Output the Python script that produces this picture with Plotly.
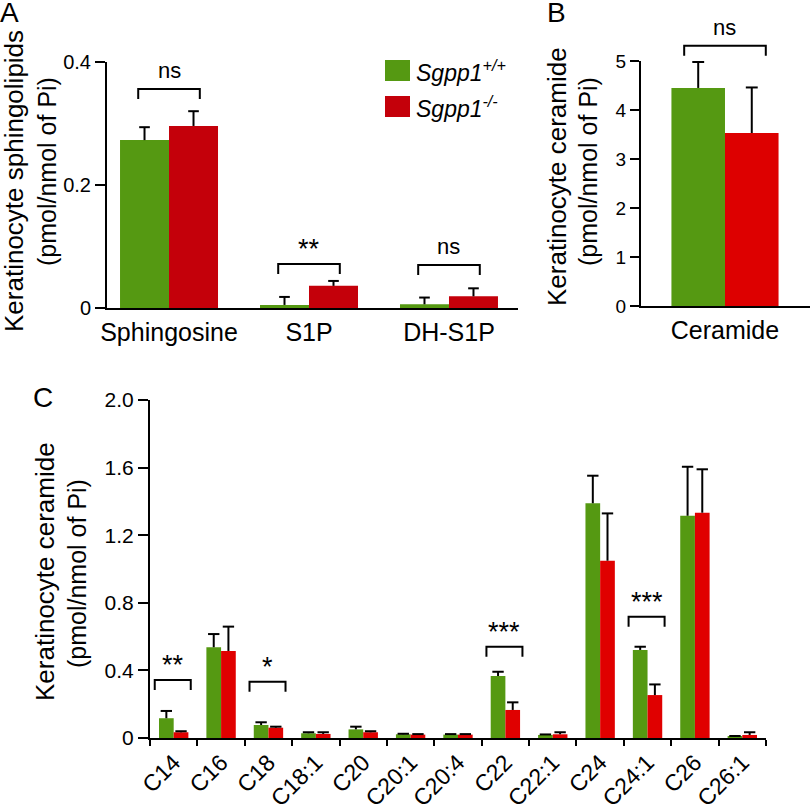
import plotly.graph_objects as go

# ---- data ----
# panel A: sphingolipids
lipids = ["Sphingosine", "S1P", "DH-S1P"]
wt_lipids = [0.273, 0.005, 0.006]
wt_lipids_err = [0.021, 0.013, 0.011]
ko_lipids = [0.296, 0.036, 0.019]
ko_lipids_err = [0.024, 0.008, 0.013]
lipid_sig = ["ns", "**", "ns"]
lipid_sig_level = [0.356, 0.0715, 0.070]
lipid_ticks = [0, 0.2, 0.4]
lipid_ticktext = ["0", "0.2", "0.4"]

# panel B: total ceramide
total = ["Ceramide"]
wt_total = [4.45]
wt_total_err = [0.53]
ko_total = [3.53]
ko_total_err = [0.93]
total_sig = ["ns"]
total_sig_level = [5.31]
total_ticks = [0, 1, 2, 3, 4, 5]
total_ticktext = ["0", "1", "2", "3", "4", "5"]

# panel C: ceramide species
species = ["C14", "C16", "C18", "C18:1", "C20", "C20:1", "C20:4",
           "C22", "C22:1", "C24", "C24:1", "C26", "C26:1"]
wt_species = [0.117, 0.537, 0.077, 0.028, 0.051, 0.022, 0.020,
              0.367, 0.018, 1.389, 0.521, 1.315, 0.008]
wt_species_err = [0.043, 0.078, 0.016, 0.006, 0.016, 0.003, 0.003,
                  0.025, 0.003, 0.163, 0.019, 0.290, 0.004]
ko_species = [0.034, 0.515, 0.061, 0.024, 0.034, 0.020, 0.020,
              0.166, 0.022, 1.049, 0.254, 1.333, 0.018]
ko_species_err = [0.006, 0.144, 0.006, 0.010, 0.006, 0.003, 0.003,
                  0.045, 0.012, 0.280, 0.063, 0.257, 0.016]
species_sig = ["**", "", "*", "", "", "", "", "***", "", "", "***", "", ""]
species_sig_level = [0.343, 0, 0.333, 0, 0, 0, 0, 0.54, 0, 0, 0.718, 0, 0]
species_ticks = [0, 0.4, 0.8, 1.2, 1.6, 2.0]
species_ticktext = ["0", "0.4", "0.8", "1.2", "1.6", "2.0"]

GREEN = "#559912"
FONT = "Liberation Sans, Arial, Helvetica, sans-serif"
W, H = 812, 806


def fx(p):
    return p / W


def fy(p):
    return 1 - p / H


# pixel layout of each panel: x domain, y domain (bottom, top), x range, bar width
panels = [
    dict(cats=lipids, wt=wt_lipids, wte=wt_lipids_err, ko=ko_lipids, koe=ko_lipids_err,
         sig=lipid_sig, lvl=lipid_sig_level, ticks=lipid_ticks, ticktext=lipid_ticktext,
         xd=(107, 518), yd=(308, 62), xr=(-0.443, 2.493), yr=(0, 0.4), w=0.35,
         red="#c4000a", half=0.22, tickfont=20, catfont=25, ticklen=10, cw=0.038),
    dict(cats=total, wt=wt_total, wte=wt_total_err, ko=ko_total, koe=ko_total_err,
         sig=total_sig, lvl=total_sig_level, ticks=total_ticks, ticktext=total_ticktext,
         xd=(641, 810), yd=(306, 61), xr=(-0.494, 0.5), yr=(0, 5), w=0.315,
         red="#dd0000", half=0.24, tickfont=19, catfont=25, ticklen=9, cw=0.035),
    dict(cats=species, wt=wt_species, wte=wt_species_err, ko=ko_species, koe=ko_species_err,
         sig=species_sig, lvl=species_sig_level, ticks=species_ticks, ticktext=species_ticktext,
         xd=(150, 766), yd=(738, 400), xr=(-0.5, 12.5), yr=(0, 2.0), w=0.31,
         red="#e00000", half=0.38, tickfont=21, catfont=23, ticklen=10, cw=0.12),
]

fig = go.Figure()
shapes = []
annotations = []

for k, p in enumerate(panels):
    sfx = "" if k == 0 else str(k + 1)
    n = len(p["cats"])
    idx = list(range(n))
    for vals, errs, off, col in [(p["wt"], p["wte"], -p["w"], GREEN),
                                 (p["ko"], p["koe"], 0, p["red"])]:
        fig.add_trace(go.Bar(x=idx, y=vals, width=p["w"], offset=off,
                             marker=dict(color=col, line=dict(width=0)),
                             xaxis="x" + sfx, yaxis="y" + sfx, showlegend=False))
        # one-sided error bars
        ex, ey = [], []
        for i in idx:
            xc = i + off + p["w"] / 2
            top = vals[i] + errs[i]
            ex += [xc, xc, None, xc - p["cw"], xc + p["cw"], None]
            ey += [vals[i], top, None, top, top, None]
        fig.add_trace(go.Scatter(x=ex, y=ey, mode="lines",
                                 line=dict(color="black", width=2),
                                 xaxis="x" + sfx, yaxis="y" + sfx,
                                 showlegend=False, hoverinfo="skip"))

    # axes
    xa = dict(domain=[fx(p["xd"][0]), fx(p["xd"][1])], range=list(p["xr"]),
              anchor="y" + sfx, showline=True, linecolor="black", linewidth=2,
              showgrid=False, zeroline=False, tickmode="array", tickvals=idx,
              ticktext=p["cats"], ticks="", tickfont=dict(size=p["catfont"]),
              automargin=False)
    if k == 2:
        xa.update(tickangle=-45,
                  minor=dict(tickmode="array", tickvals=[i - 0.5 for i in range(n + 1)],
                             ticks="outside", ticklen=6, tickwidth=2, tickcolor="black"))
    else:
        xa.update(ticklabelstandoff=1)
    ya = dict(domain=[fy(p["yd"][0]), fy(p["yd"][1])], range=list(p["yr"]),
              anchor="x" + sfx, showline=True, linecolor="black", linewidth=2,
              showgrid=False, zeroline=False, tickmode="array", tickvals=p["ticks"],
              ticktext=p["ticktext"], ticks="outside", ticklen=p["ticklen"],
              tickwidth=2, tickcolor="black", tickfont=dict(size=p["tickfont"]),
              automargin=False)
    fig.update_layout({"xaxis" + sfx: xa, "yaxis" + sfx: ya})

    # significance brackets, in paper coordinates so they can sit above the axis
    def px_(v, p=p):
        return fx(p["xd"][0]) + (v - p["xr"][0]) / (p["xr"][1] - p["xr"][0]) * (fx(p["xd"][1]) - fx(p["xd"][0]))

    def py_(v, p=p):
        return fy(p["yd"][0]) + (v - p["yr"][0]) / (p["yr"][1] - p["yr"][0]) * (fy(p["yd"][1]) - fy(p["yd"][0]))

    for i in idx:
        if not p["sig"][i]:
            continue
        c = i - (0.02 if k == 2 else 0)
        x0, x1 = px_(c - p["half"]), px_(c + p["half"])
        yt = py_(p["lvl"][i])
        yb = yt - 10 / H
        shapes.append(dict(type="path", xref="paper", yref="paper",
                           path=f"M {x0} {yb} L {x0} {yt} L {x1} {yt} L {x1} {yb}",
                           line=dict(color="black", width=2)))
        is_ns = p["sig"][i] == "ns"
        annotations.append(dict(xref="paper", yref="paper", x=(x0 + x1) / 2, y=yt,
                                text=p["sig"][i], showarrow=False, xanchor="center",
                                yanchor="bottom", yshift=4 if is_ns else -2,
                                font=dict(size=22 if is_ns else 27)))

# axis titles, one annotation per line for tighter line spacing
for cx1, cy1, cx2, cy2, t1 in [(14, 181, 47, 172, "Keratinocyte sphingolipids"),
                               (557, 177, 588, 172, "Keratinocyte ceramide"),
                               (45, 572, 77, 574, "Keratinocyte ceramide")]:
    for cx, cy, t, sz in [(cx1, cy1, t1, 26), (cx2, cy2, "(pmol/nmol of Pi)", 25)]:
        annotations.append(dict(xref="paper", yref="paper", x=fx(cx), y=fy(cy),
                                text=t, textangle=-90, showarrow=False,
                                xanchor="center", yanchor="middle", font=dict(size=sz)))

# panel letters
for cx, cy, t in [(9, 13, "A"), (556, 13, "B"), (43, 397, "C")]:
    annotations.append(dict(xref="paper", yref="paper", x=fx(cx), y=fy(cy), text=t,
                            showarrow=False, xanchor="center", yanchor="middle",
                            font=dict(size=28)))

# legend
for y0, col, lab in [(60, GREEN, "<i>Sgpp1<sup>+/+</sup></i>"),
                     (96, panels[0]["red"], "<i>Sgpp1<sup>-/-</sup></i>")]:
    shapes.append(dict(type="rect", xref="paper", yref="paper",
                       x0=fx(385), x1=fx(410), y0=fy(y0 + 21), y1=fy(y0),
                       fillcolor=col, line=dict(width=0)))
    annotations.append(dict(xref="paper", yref="paper", x=fx(414), y=fy(y0 + 11),
                            text=lab, showarrow=False, xanchor="left", yanchor="middle",
                            font=dict(size=23)))

fig.update_layout(width=W, height=H, margin=dict(l=0, r=0, t=0, b=0),
                  paper_bgcolor="white", plot_bgcolor="white", barmode="overlay",
                  font=dict(family=FONT, color="black"),
                  shapes=shapes, annotations=annotations, showlegend=False)

fig.write_html("out.html", config={"displayModeBar": False},
               post_script="document.body.style.margin='0';document.body.style.overflow='hidden';")
